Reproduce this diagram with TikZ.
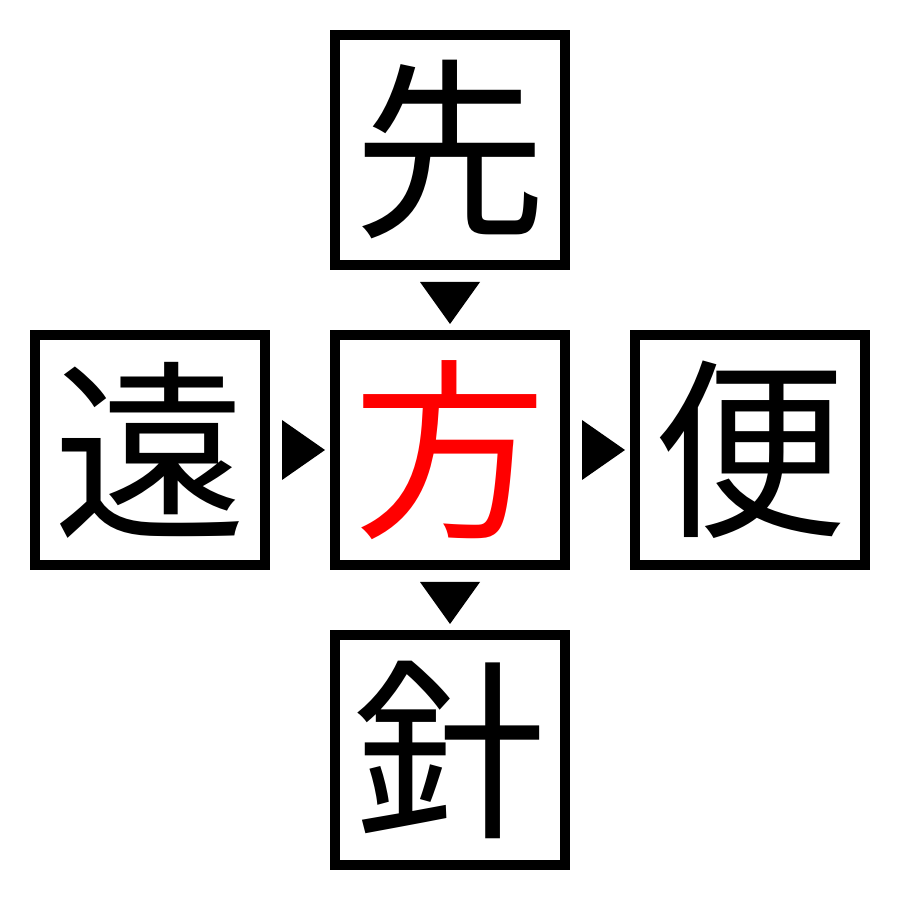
\documentclass[tikz,border=0pt]{standalone}
\usepackage{fontspec}
\newfontfamily\cjk{Noto Sans CJK JP}
\usepackage{tikz}

\begin{document}
\begin{tikzpicture}
       \tikzset{
         zi/.style = {draw, line width = 0.1cm, minimum size = 2.3cm, inner sep = 0,
                      font = \cjk\fontsize{55}{55}\selectfont}
       }
       \useasboundingbox (0, 0) rectangle (9, 9);
       % 五个方框
       \node [zi] (xian) at (4.5, 7.5) {先};
       \node [zi] (yuan) at (1.5, 4.5) {遠};
       \node [zi, text = red] (fang) at (4.5, 4.5) {方};
       \node [zi] (bian) at (7.5, 4.5) {便};
       \node [zi] (zhen) at (4.5, 1.5) {針};

       % 四个三角形
       \path (xian) -- coordinate[midway] (m1) (fang);
       \path (fang) -- coordinate[midway] (m2) (zhen);
       \path (yuan) -- coordinate[midway] (m3) (fang);
       \path (fang) -- coordinate[midway] (m4) (bian);
       \fill (m1) +(-0.3, 0.18) -- +(0.3, 0.18) -- +(0, -0.24) -- cycle;
       \fill (m2) +(-0.3, 0.18) -- +(0.3, 0.18) -- +(0, -0.24) -- cycle;
       \fill (m3) +(-0.18, 0.3) -- +(-0.18, -0.3) -- +(0.25, 0) -- cycle;
       \fill (m4) +(-0.18, 0.3) -- +(-0.18, -0.3) -- +(0.25, 0) -- cycle;
     \end{tikzpicture}
\end{document}
